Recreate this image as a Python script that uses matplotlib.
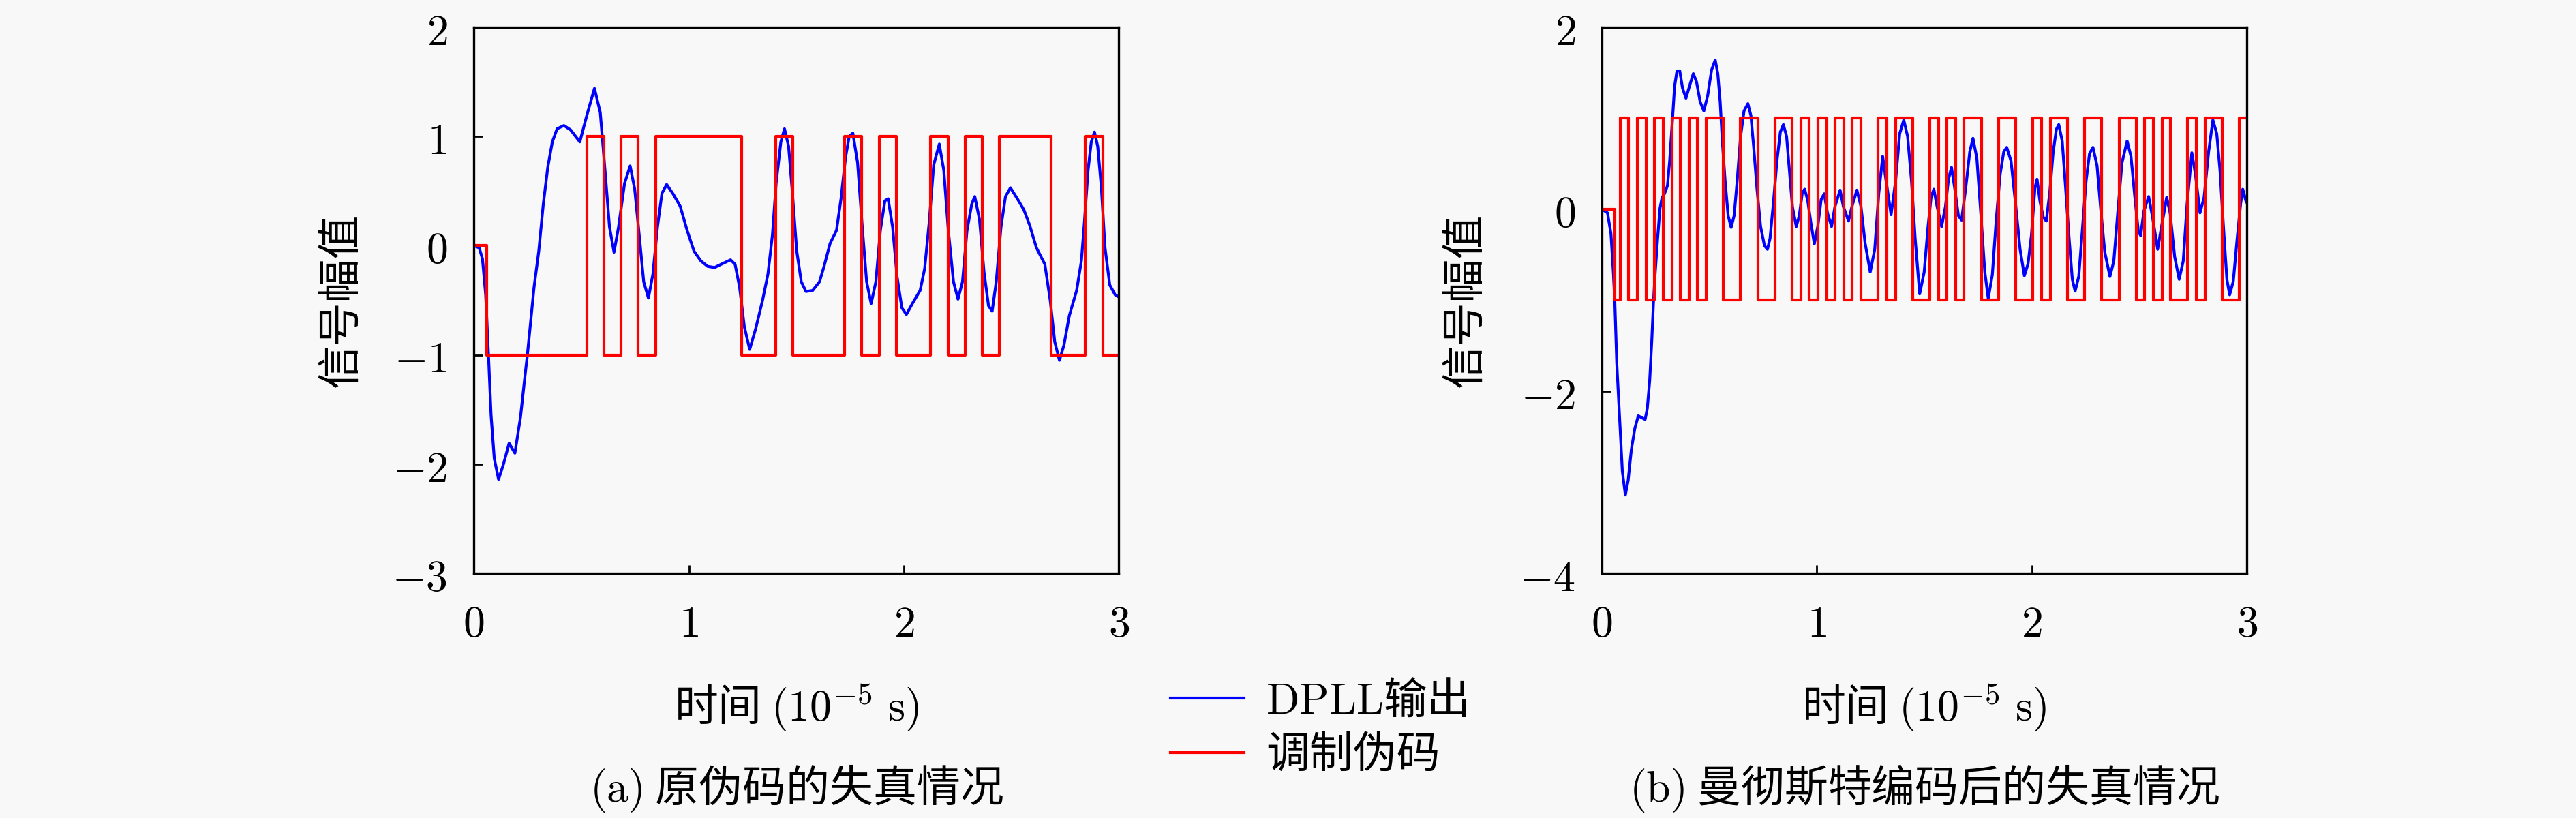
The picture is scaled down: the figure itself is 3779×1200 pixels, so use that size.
import numpy as np
import matplotlib
matplotlib.use("Agg")
import matplotlib.pyplot as plt

plt.rcParams['font.family'] = ['Noto Sans CJK SC', 'DejaVu Sans']
plt.rcParams['mathtext.fontset'] = 'cm'
plt.rcParams['axes.unicode_minus'] = True

# ------------------ DATA ------------------
# pseudo-code chips (panel a), chip length 0.08, first chip edge at 0.045
chips_a = [-1, -1, -1, -1, -1, -1, 1, -1, 1, -1, 1, 1, 1, 1, 1, -1, -1, 1,
           -1, -1, -1, 1, -1, 1, -1, -1, 1, -1, 1, -1, 1, 1, 1, -1, -1, 1, -1]

# manchester half-chips (panel b), half-chip length 0.04
halves_b = [-1, 1, -1, 1, -1, 1, -1, 1, -1, 1, -1, 1, 1, -1, -1, 1, 1, -1,
            -1, 1, 1, -1, 1, -1, 1, -1, 1, -1, 1, -1, -1, 1, -1, 1, 1, -1,
            -1, 1, -1, 1, -1, 1, 1, -1, -1, 1, 1, -1, -1, 1, -1, 1, 1, -1,
            -1, 1, 1, -1, -1, 1, 1, -1, 1, -1, 1, -1, -1, 1, -1, 1, 1, -1,
            -1, 1]

code_start = 0.045
code_zero_end = 0.06
chip_len_a = 0.08
chip_len_b = 0.04

# DPLL output, panel a (time in 1e-5 s, amplitude)
dpll_a_t = [0.0, 0.025, 0.04, 0.055, 0.068, 0.08, 0.095, 0.115, 0.138, 0.164,
            0.191, 0.217, 0.238, 0.249, 0.280, 0.302, 0.323, 0.344, 0.365, 0.387,
            0.419, 0.450, 0.493, 0.525, 0.561, 0.588, 0.610, 0.631, 0.652, 0.673,
            0.701, 0.727, 0.748, 0.769, 0.790, 0.812, 0.833, 0.854, 0.875, 0.897,
            0.928, 0.960, 0.992, 1.024, 1.056, 1.088, 1.120, 1.151, 1.194, 1.215,
            1.236, 1.258, 1.283, 1.311, 1.343, 1.368, 1.389, 1.406, 1.428, 1.445,
            1.464, 1.481, 1.502, 1.523, 1.545, 1.576, 1.608, 1.629, 1.657, 1.687,
            1.708, 1.729, 1.746, 1.763, 1.785, 1.806, 1.827, 1.848, 1.870, 1.891,
            1.912, 1.927, 1.948, 1.969, 1.991, 2.012, 2.040, 2.076, 2.097, 2.118,
            2.139, 2.165, 2.186, 2.207, 2.231, 2.252, 2.273, 2.294, 2.316, 2.330,
            2.352, 2.373, 2.394, 2.411, 2.430, 2.452, 2.473, 2.496, 2.528, 2.558,
            2.585, 2.617, 2.656, 2.681, 2.702, 2.724, 2.745, 2.770, 2.804, 2.826,
            2.840, 2.857, 2.872, 2.887, 2.902, 2.919, 2.936, 2.958, 2.983, 3.0]
dpll_a_y = [0.0, -0.02, -0.12, -0.45, -1.0, -1.55, -1.95, -2.14, -2.0, -1.81,
            -1.90, -1.57, -1.19, -1.0, -0.38, -0.05, 0.38, 0.72, 0.95, 1.07,
            1.10, 1.06, 0.95, 1.19, 1.44, 1.22, 0.69, 0.17, -0.06, 0.17,
            0.57, 0.73, 0.52, 0.10, -0.33, -0.48, -0.26, 0.17, 0.48, 0.56,
            0.47, 0.36, 0.14, -0.05, -0.14, -0.19, -0.20, -0.17, -0.13, -0.17,
            -0.38, -0.74, -0.95, -0.76, -0.50, -0.26, 0.10, 0.57, 0.95, 1.07,
            0.91, 0.50, -0.05, -0.33, -0.42, -0.41, -0.33, -0.19, 0.02, 0.14,
            0.43, 0.81, 1.0, 1.03, 0.76, 0.19, -0.33, -0.53, -0.33, 0.14,
            0.41, 0.43, 0.17, -0.29, -0.57, -0.63, -0.53, -0.41, -0.21, 0.21,
            0.74, 0.93, 0.69, 0.14, -0.33, -0.49, -0.33, 0.14, 0.38, 0.45,
            0.24, -0.24, -0.55, -0.60, -0.33, 0.17, 0.45, 0.53, 0.43, 0.33,
            0.19, -0.02, -0.17, -0.50, -0.88, -1.05, -0.91, -0.64, -0.41, -0.14,
            0.21, 0.69, 0.95, 1.04, 0.91, 0.53, -0.02, -0.36, -0.45, -0.47]

# DPLL output, panel b
dpll_b_t = [0.0, 0.026, 0.042, 0.053, 0.060, 0.069, 0.085, 0.095, 0.109, 0.122,
            0.137, 0.153, 0.169, 0.185, 0.201, 0.211, 0.222, 0.232, 0.240, 0.248,
            0.259, 0.270, 0.280, 0.291, 0.305, 0.315, 0.328, 0.338, 0.349, 0.362,
            0.375, 0.391, 0.407, 0.425, 0.440, 0.457, 0.474, 0.492, 0.510, 0.527,
            0.539, 0.550, 0.560, 0.573, 0.587, 0.601, 0.615, 0.629, 0.645, 0.661,
            0.679, 0.693, 0.706, 0.721, 0.738, 0.756, 0.770, 0.782, 0.798, 0.814,
            0.830, 0.844, 0.859, 0.872, 0.886, 0.904, 0.918, 0.932, 0.943, 0.957,
            0.972, 0.988, 1.004, 1.020, 1.034, 1.049, 1.068, 1.084, 1.108, 1.123,
            1.147, 1.163, 1.186, 1.205, 1.224, 1.248, 1.269, 1.288, 1.306, 1.322,
            1.345, 1.366, 1.385, 1.404, 1.422, 1.440, 1.457, 1.478, 1.499, 1.517,
            1.531, 1.544, 1.559, 1.580, 1.598, 1.612, 1.626, 1.641, 1.658, 1.673,
            1.692, 1.711, 1.726, 1.744, 1.763, 1.781, 1.797, 1.816, 1.834, 1.852,
            1.869, 1.883, 1.903, 1.924, 1.945, 1.965, 1.982, 1.998, 2.014, 2.024,
            2.038, 2.053, 2.067, 2.083, 2.099, 2.114, 2.125, 2.141, 2.157, 2.173,
            2.188, 2.201, 2.218, 2.236, 2.252, 2.268, 2.284, 2.303, 2.321, 2.339,
            2.363, 2.381, 2.400, 2.419, 2.443, 2.461, 2.479, 2.495, 2.506, 2.521,
            2.543, 2.560, 2.585, 2.603, 2.627, 2.643, 2.664, 2.685, 2.704, 2.722,
            2.744, 2.761, 2.782, 2.801, 2.822, 2.842, 2.860, 2.875, 2.891, 2.907,
            2.920, 2.937, 2.955, 2.971, 2.981, 2.997]
dpll_b_y = [0.0, -0.04, -0.27, -0.69, -1.02, -1.69, -2.43, -2.88, -3.14, -2.98,
            -2.64, -2.41, -2.27, -2.29, -2.31, -2.19, -1.89, -1.44, -1.01, -0.69,
            -0.32, 0.01, 0.13, 0.17, 0.26, 0.53, 0.98, 1.35, 1.52, 1.52,
            1.33, 1.22, 1.35, 1.49, 1.40, 1.18, 1.08, 1.25, 1.53, 1.64,
            1.49, 1.18, 0.75, 0.31, -0.07, -0.20, -0.07, 0.31, 0.80, 1.08,
            1.16, 1.03, 0.68, 0.23, -0.19, -0.40, -0.44, -0.32, 0.08, 0.53,
            0.85, 0.93, 0.80, 0.43, 0.03, -0.19, -0.07, 0.18, 0.22, 0.10,
            -0.15, -0.38, -0.19, 0.11, 0.17, -0.04, -0.19, 0.03, 0.21, 0.03,
            -0.13, 0.03, 0.21, 0.03, -0.37, -0.69, -0.44, 0.18, 0.58, 0.31,
            -0.06, 0.31, 0.83, 0.98, 0.80, 0.31, -0.32, -0.93, -0.69, -0.19,
            0.13, 0.22, 0.03, -0.19, 0.03, 0.33, 0.46, 0.23, -0.07, -0.12,
            0.23, 0.63, 0.78, 0.56, -0.07, -0.69, -0.98, -0.72, -0.12, 0.38,
            0.63, 0.68, 0.53, 0.06, -0.44, -0.73, -0.60, -0.28, 0.23, 0.33,
            0.08, -0.09, -0.13, 0.18, 0.63, 0.88, 0.93, 0.75, 0.23, -0.32,
            -0.77, -0.90, -0.74, -0.19, 0.31, 0.61, 0.68, 0.48, -0.02, -0.47,
            -0.74, -0.57, -0.02, 0.51, 0.75, 0.58, 0.13, -0.24, -0.29, -0.02,
            0.14, -0.07, -0.44, -0.19, 0.13, -0.04, -0.52, -0.77, -0.57, 0.06,
            0.62, 0.38, -0.04, 0.13, 0.63, 0.98, 0.83, 0.43, -0.19, -0.77,
            -0.94, -0.79, -0.32, 0.06, 0.22, 0.08]

x_ticks = [0, 1, 2, 3]
y_ticks_a = [-3, -2, -1, 0, 1, 2]
y_ticks_b = [-4, -2, 0, 2]

captions = [r"$(\mathrm{a})$ 原伪码的失真情况", r"$(\mathrm{b})$ 曼彻斯特编码后的失真情况"]
legend_labels = [r"$\mathrm{DPLL}$输出", "调制伪码"]


def code_steps(levels, chip_len):
    # step edges: zero first, then the chip levels
    edges = code_start + chip_len * np.arange(len(levels) + 1)
    edges[0] = code_zero_end
    t = np.concatenate([[0.0], edges])
    y = np.concatenate([[0.0], levels, [levels[-1]]])
    return t, y


# ------------------ PLOT ------------------
FS = 46
LW = 3.0
bg = "#f8f8f8"
fig = plt.figure(figsize=(37.8, 12), dpi=100, facecolor=bg)

ax_a = fig.add_axes([0.1839, 0.2992, 0.2503, 0.6675])
ax_b = fig.add_axes([0.6217, 0.2992, 0.2503, 0.6675])

panels = [
    (ax_a, dpll_a_t, dpll_a_y, chips_a, chip_len_a, (-3, 2), y_ticks_a, -0.171),
    (ax_b, dpll_b_t, dpll_b_y, halves_b, chip_len_b, (-4, 2), y_ticks_b, -0.177),
]

handles = None
for ax, bt, by, lv, clen, ylim, yt, ylab_x in panels:
    ax.set_facecolor(bg)
    l1, = ax.plot(bt, by, color="#0000ff", lw=LW, label=legend_labels[0])
    ct, cy = code_steps(lv, clen)
    l2, = ax.plot(ct, cy, color="#ff0000", lw=LW, drawstyle="steps-post",
                  label=legend_labels[1])
    if handles is None:
        handles = [l1, l2]

    ax.set_xlim(0, 3)
    ax.set_ylim(*ylim)
    ax.set_xticks(x_ticks, labels=[f"${v}$" for v in x_ticks])
    ax.set_yticks(yt, labels=[f"${v}$" for v in yt])
    ax.tick_params(direction="in", length=9, width=2, labelsize=FS,
                   top=False, right=False)
    ax.tick_params(axis="x", pad=30)
    ax.tick_params(axis="y", pad=28)
    for s in ax.spines.values():
        s.set_linewidth(2.4)

    ax.set_ylabel("信号幅值", fontsize=FS)
    ax.yaxis.set_label_coords(ylab_x, 0.5)
    ax.set_xlabel(r"时间 $(10^{-5}\ \mathrm{s})$", fontsize=FS)
    ax.xaxis.label.set_va("center")
    ax.xaxis.set_label_coords(0.5, -0.246)

for ax, cap in zip([ax_a, ax_b], captions):
    pos = ax.get_position()
    fig.text(pos.x0 + pos.width / 2, 0.036, cap, ha="center", va="center",
             fontsize=FS)

fig.legend(handles=handles, labels=legend_labels, loc="center left",
           bbox_to_anchor=(0.4542, 0.11), frameon=False, fontsize=FS,
           borderpad=0, borderaxespad=0, handlelength=1.7, handletextpad=0.5,
           labelspacing=0.2)

fig.savefig("out.png", dpi=100, facecolor=bg)
